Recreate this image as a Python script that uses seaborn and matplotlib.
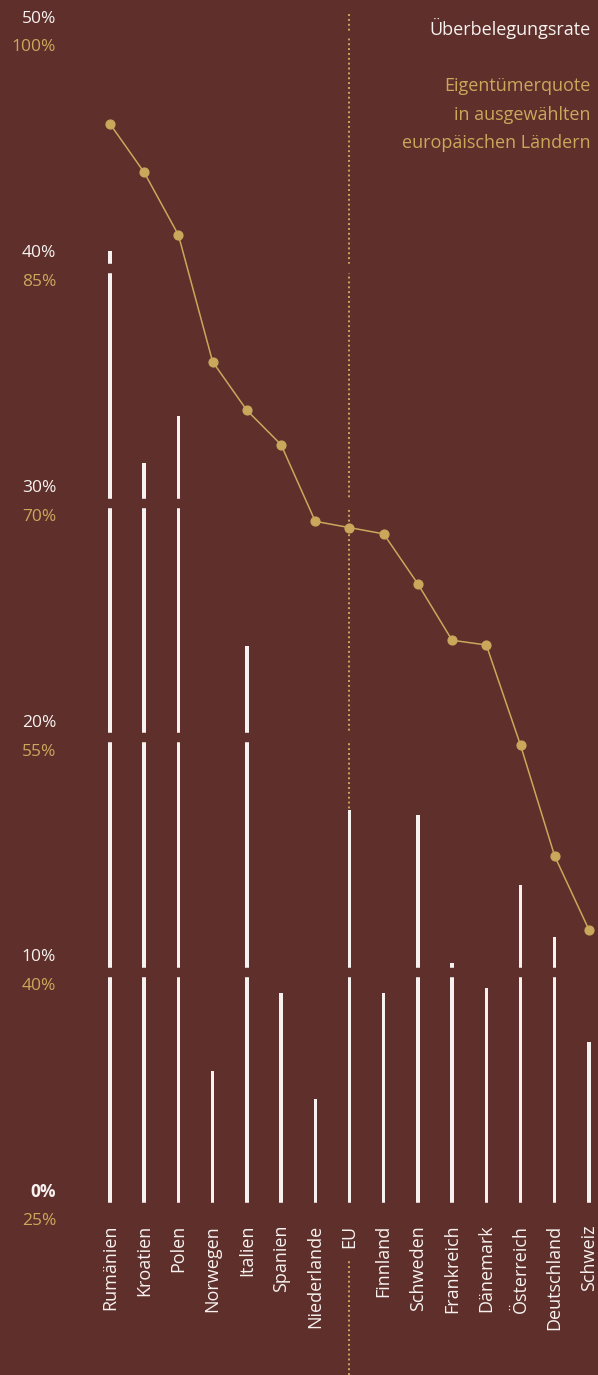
import matplotlib
matplotlib.use("Agg")
import matplotlib.pyplot as plt
import matplotlib.transforms as mtrans
import seaborn as sns
import pandas as pd

# data
countries = ["Rumänien", "Kroatien", "Polen", "Norwegen", "Italien", "Spanien",
             "Niederlande", "EU", "Finnland", "Schweden", "Frankreich", "Dänemark",
             "Österreich", "Deutschland", "Schweiz"]
overcrowding = [40.7, 31.7, 33.7, 5.8, 23.9, 9.1, 4.6, 16.9, 9.1, 16.7, 10.4, 9.3, 13.7, 11.5, 7.0]
ownership = [94.2, 91.1, 87.1, 79.0, 75.9, 73.7, 68.8, 68.4, 68.0, 64.8, 61.2, 60.9, 54.5, 47.4, 42.7]
left_ticks = [0, 10, 20, 30, 40, 50]
right_ticks = [25, 40, 55, 70, 85, 100]

bg = "#5e2f2b"
gold = "#c9a85c"
white = "#f7f2f0"

df = pd.DataFrame({"land": countries, "ueberbelegung": overcrowding, "eigentum": ownership})

sns.set_style("white")
plt.rcParams["font.family"] = ["Open Sans", "DejaVu Sans"]

fig = plt.figure(figsize=(5.98, 13.75), dpi=100, facecolor=bg)
ax = fig.add_axes([0, 0.1224, 1, 0.8535])
ax.set_facecolor(bg)

# overcrowding rate as thin white bars
sns.barplot(data=df, x="land", y="ueberbelegung", color=white, width=0.1,
            saturation=1, linewidth=0, ax=ax, zorder=2)

# gaps in the bars at every gridline
for t in left_ticks:
    ax.axhline(t, color=bg, lw=6.8, zorder=3)

# owner-occupancy rate on its own scale
ax2 = ax.twinx()
ax2.set_facecolor("none")
sns.pointplot(data=df, x="land", y="eigentum", color=gold, errorbar=None,
              markersize=6.5, linewidth=1.1, ax=ax2)
ax2.set_ylim(25, 100)
ax2.set_yticks([])
ax2.set_ylabel("")
ax2.tick_params(bottom=False, labelbottom=False)
for s in ax2.spines.values():
    s.set_visible(False)

# dotted EU marker line
eu = countries.index("EU")
ax.axvline(eu, ymin=0, ymax=1.016, color=gold, lw=1.4, ls=(0, (1, 1.5)),
           zorder=1, clip_on=False)
dot_tr = mtrans.blended_transform_factory(ax.transData, fig.transFigure)
ax.plot([eu, eu], [0, 0.084], transform=dot_tr, color=gold, lw=1.4,
        ls=(0, (1, 1.5)), clip_on=False, zorder=1)

ax.set_ylim(0, 50)
ax.set_xlim(-3.215, 14.265)
ax.set_yticks([])
ax.set_xlabel("")
ax.set_ylabel("")
for s in ax.spines.values():
    s.set_visible(False)
ax.tick_params(axis="x", length=0, pad=13, colors=white, labelsize=13)
for lab in ax.get_xticklabels():
    lab.set_rotation(90)
    lab.set_va("top")
    lab.set_ha("center")

# two-colour y labels
lab_tr = mtrans.blended_transform_factory(ax.transAxes, ax.transData)
up = mtrans.offset_copy(lab_tr, fig=fig, y=10.5, units="points")
dn = mtrans.offset_copy(lab_tr, fig=fig, y=-10.3, units="points")
for l, r in zip(left_ticks, right_ticks):
    ax.text(0.094, l, f"{l}%", transform=up, ha="right", va="center", color=white,
            fontsize=12.5, fontweight="bold" if l == 0 else "normal")
    ax.text(0.094, l, f"{r}%", transform=dn, ha="right", va="center", color=gold,
            fontsize=12.5)

fig.text(0.987, 1 - 28 / 1375, "Überbelegungsrate", ha="right", va="center",
         color=white, fontsize=13)
fig.text(0.987, 1 - 77 / 1375, "Eigentümerquote\nin ausgewählten\neuropäischen Ländern",
         ha="right", va="top", multialignment="right", color=gold, fontsize=13,
         linespacing=1.75)

fig.savefig("out.png", dpi=100, facecolor=bg)
